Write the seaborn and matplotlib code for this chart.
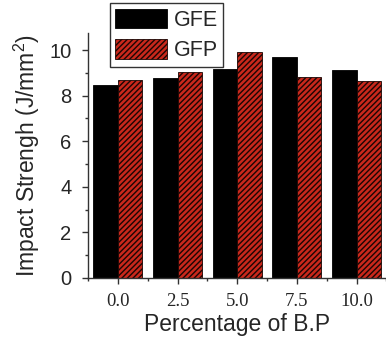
import pandas as pd
import matplotlib
matplotlib.use("Agg")
import matplotlib.pyplot as plt
from matplotlib.ticker import MultipleLocator
import seaborn as sns

# --- data ---
percent_labels = ["0.0", "2.5", "5.0", "7.5", "10.0"]
gfe_values = [8.46, 8.79, 9.17, 9.68, 9.14]
gfp_values = [8.67, 9.04, 9.93, 8.82, 8.64]
series_names = ["GFE", "GFP"]

df = pd.DataFrame({
    "Percentage": percent_labels * 2,
    "Impact": gfe_values + gfp_values,
    "Sample": [series_names[0]] * len(percent_labels) + [series_names[1]] * len(percent_labels),
})

sns.set_style("ticks")
plt.rcParams["font.family"] = ["Liberation Sans", "DejaVu Sans"]
plt.rcParams["mathtext.default"] = "regular"
plt.rcParams["hatch.linewidth"] = 1.0

fig = plt.figure(figsize=(3.86, 3.47), dpi=100)
ax = fig.add_axes([0.228, 0.199, 0.773, 0.706])

sns.barplot(data=df, x="Percentage", y="Impact", hue="Sample",
            palette=["#000000", "#c9281c"], width=0.82, saturation=1,
            linewidth=0.6, ax=ax, legend=False)

# black solid bars for GFE, hatched red bars for GFP
for bar in ax.containers[0]:
    bar.set_edgecolor("#000000")
for bar in ax.containers[1]:
    bar.set_hatch("//////")
    bar.set_edgecolor("#1a0604")

ax.set_xlim(-0.5, 4.5)
ax.set_ylim(0, 10.75)
ax.yaxis.set_major_locator(MultipleLocator(2))
ax.yaxis.set_minor_locator(MultipleLocator(1))
ax.xaxis.set_minor_locator(MultipleLocator(0.5))

ax.tick_params(axis="both", which="major", direction="out", length=4, width=1, color="#333333")
ax.tick_params(axis="both", which="minor", direction="out", length=2.5, width=1, color="#333333")
ax.tick_params(axis="y", labelsize=14.5, pad=8)
ax.tick_params(axis="x", labelsize=13.5, pad=7)
for lab in ax.get_xticklabels():
    lab.set_family("Liberation Serif")

sns.despine(ax=ax, top=True, right=True)
for s in ["left", "bottom"]:
    ax.spines[s].set_color("#333333")
    ax.spines[s].set_linewidth(1)

ax.set_xlabel("Percentage of B.P", fontsize=16.5, labelpad=2)
ax.set_ylabel("Impact Strengh (J/mm$^2$)", fontsize=16.5, labelpad=5)

# legend built from the bar containers so the hatch shows in the handle
leg = ax.legend([ax.containers[0][0], ax.containers[1][0]], series_names,
                loc="upper left", bbox_to_anchor=(0.285, 0.99), bbox_transform=fig.transFigure,
                fontsize=15.5, frameon=True, fancybox=False, framealpha=1,
                edgecolor="#333333", handlelength=2.4, handleheight=1.0,
                handletextpad=0.3, labelspacing=0.4, borderpad=0.25, borderaxespad=0)
leg.get_frame().set_linewidth(1)

fig.savefig("out.png", dpi=100)
